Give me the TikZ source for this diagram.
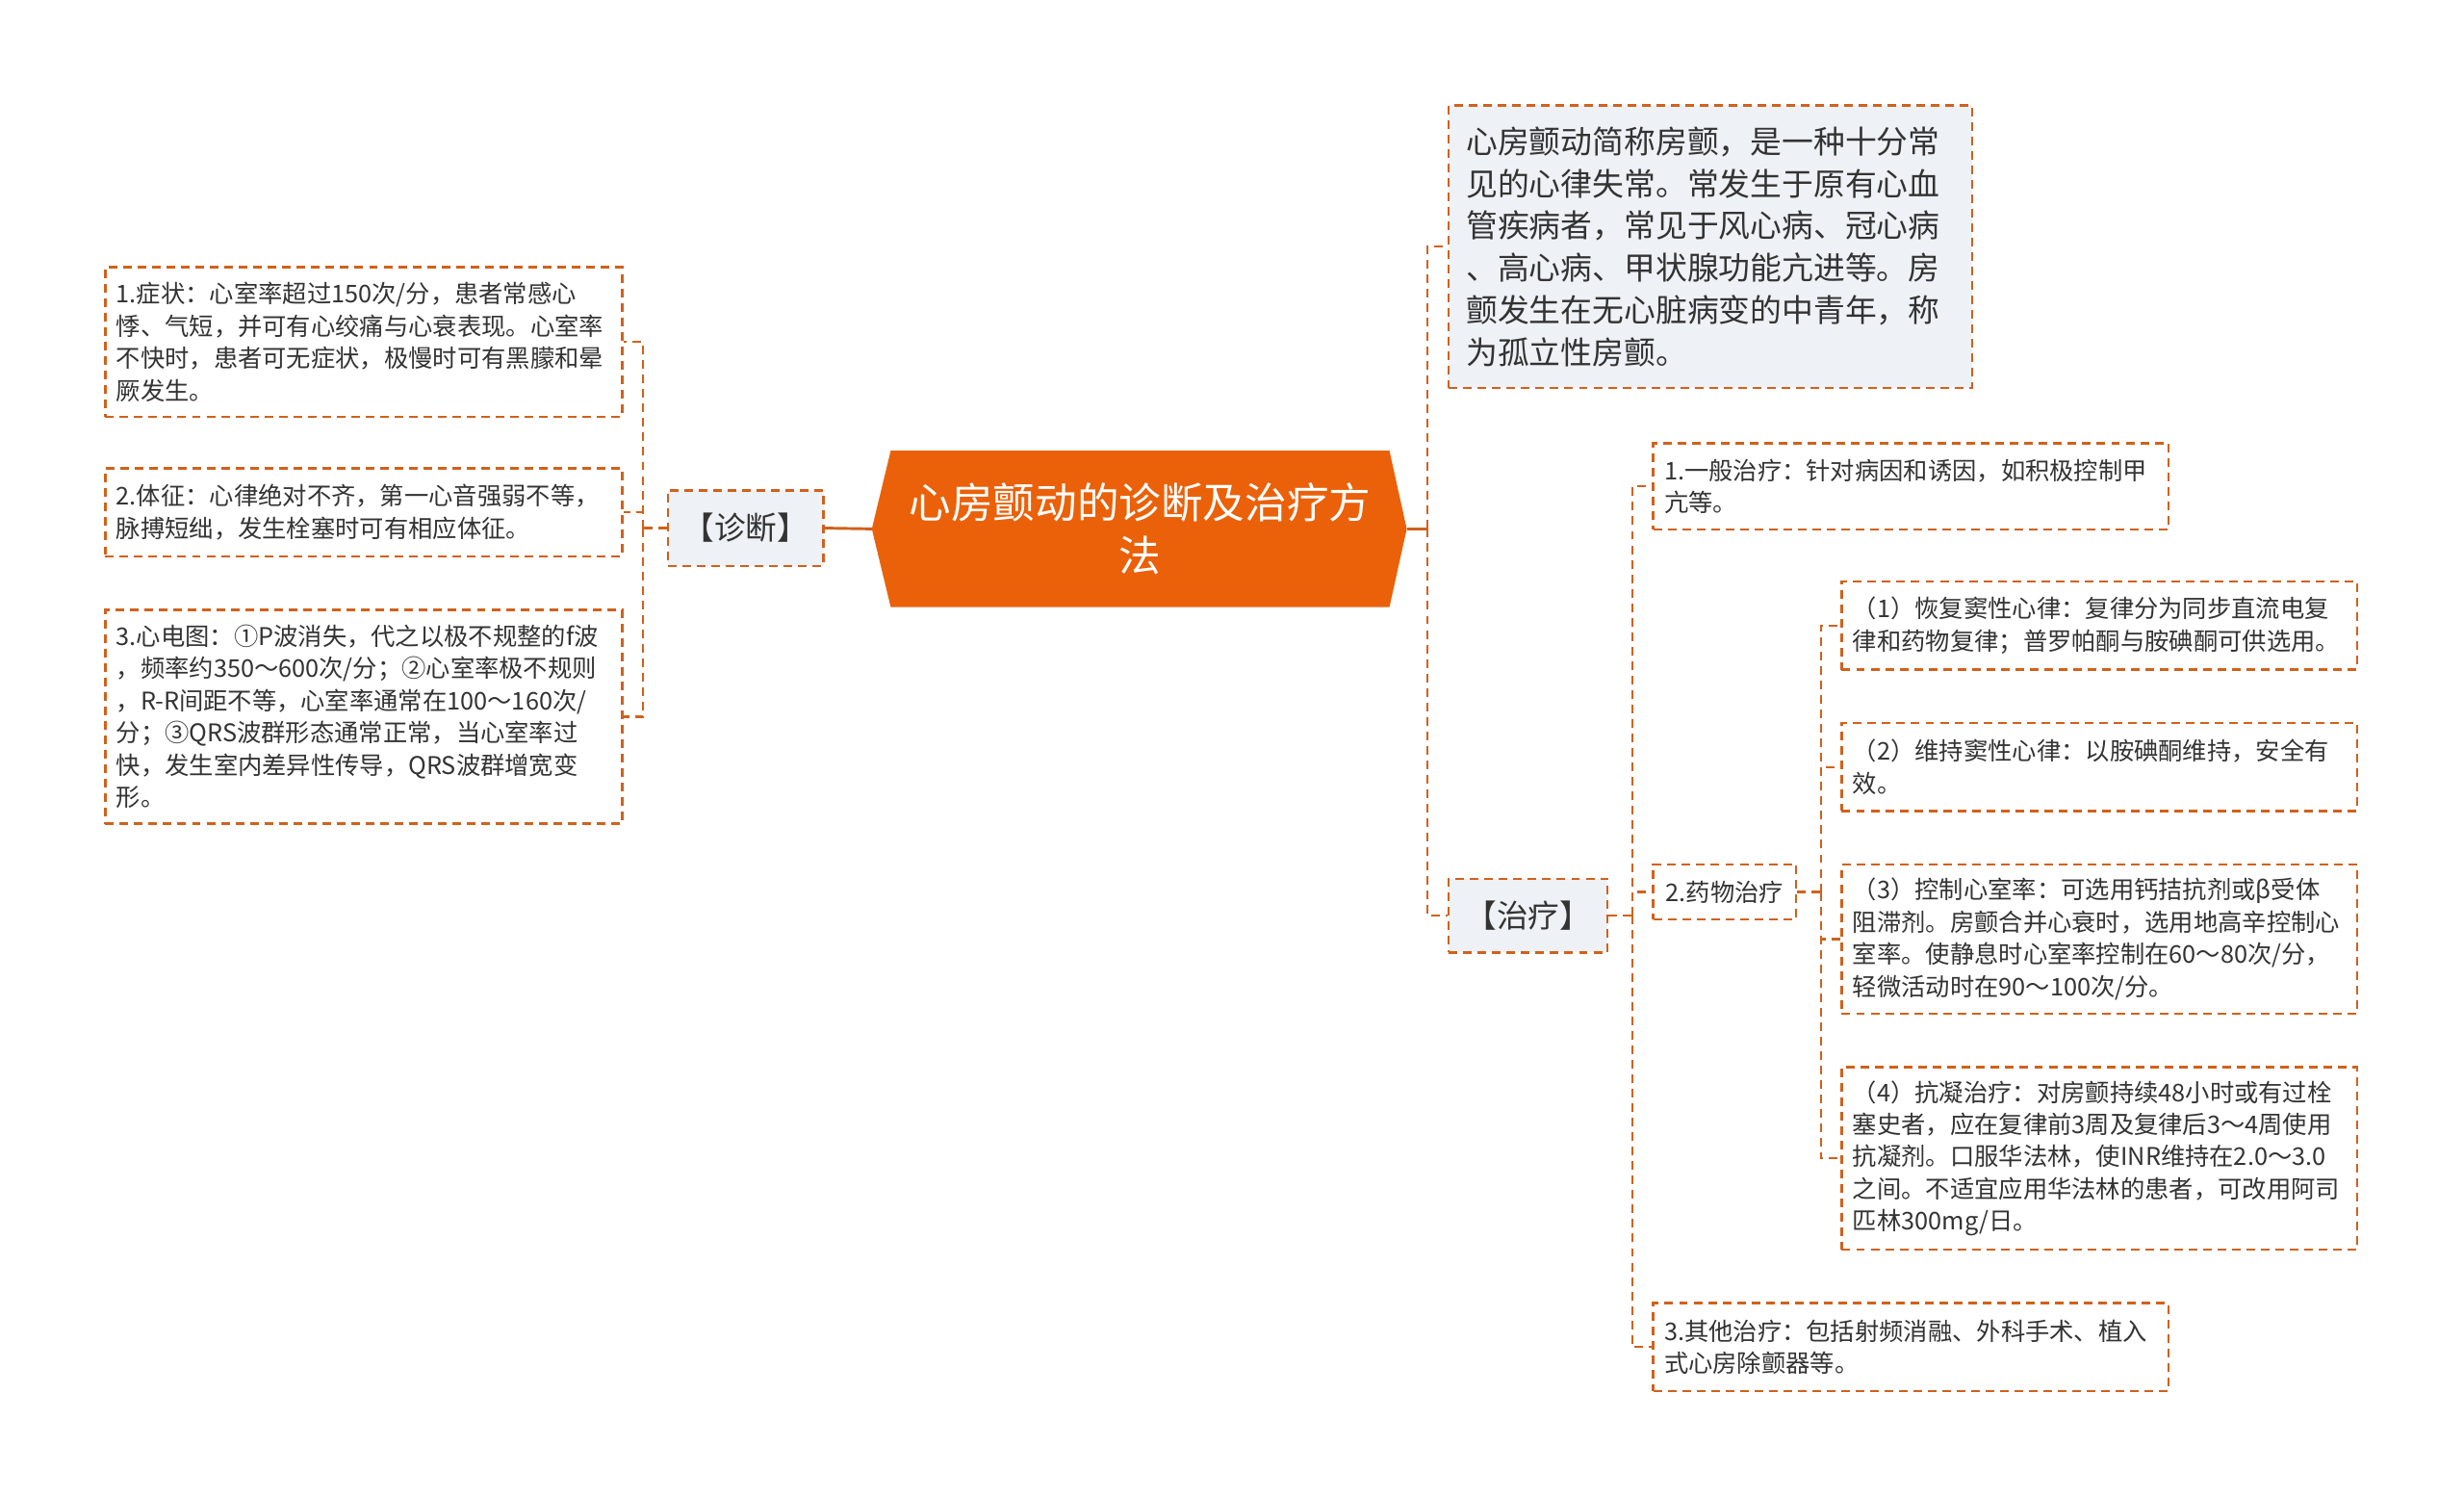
\documentclass[tikz,border=0pt]{standalone}
\usepackage{fontspec}
\newfontfamily\cjk{Noto Sans CJK SC}
\usetikzlibrary{backgrounds,calc}
\definecolor{lineor}{HTML}{D0611C}
\definecolor{mainor}{HTML}{EA6109}
\definecolor{graybg}{HTML}{EEF1F5}
\definecolor{txt}{HTML}{333333}
\tikzset{
  dashln/.style={draw=lineor, line width=1.4pt, dash pattern=on 5.5pt off 3.7pt},
  solidln/.style={draw=lineor, line width=1.8pt},
  sbox/.style={dashln, fill=white, text=txt, align=left, inner xsep=7pt, inner ysep=0pt,
    font=\cjk\fontsize{15.5}{20.5}\selectfont},
  gbox/.style={dashln, fill=graybg, text=txt, align=center, inner sep=0pt,
    font=\cjk\fontsize{20}{26}\selectfont},
  introbox/.style={dashln, fill=graybg, text=txt, align=left, inner xsep=11pt, inner ysep=0pt,
    font=\cjk\fontsize{20.1}{26.8}\selectfont},
}
\begin{document}
\begin{tikzpicture}[x=1pt,y=-1pt]
\useasboundingbox (0,0) rectangle (1568,952);

% central node
\node[font=\cjk\fontsize{26.7}{34}\selectfont, text=white, align=center,
      minimum width=317pt, minimum height=99pt, inner sep=0pt] (c) at (725.5,336.5)
  {心房颤动的诊断及治疗方\\法};
\coordinate (cL) at ($(c.west)+(-12,0)$);
\coordinate (cR) at ($(c.east)+(11,0)$);
\begin{scope}[on background layer]
  \fill[white] (0,0) rectangle (1568,952);
  \fill[mainor] (c.north west) -- (c.north east) -- (cR) -- (c.south east)
    -- (c.south west) -- (cL) -- cycle;
\end{scope}

% left branch
\node[gbox, minimum width=99pt, minimum height=48pt] (zd) at (474.5,336) {【诊断】};

\node[sbox, text width=315pt, minimum height=95pt] (b1) at (231.5,217.5)
  {1.症状：心室率超过150次/分，患者常感心\\悸、气短，并可有心绞痛与心衰表现。心室率\\不快时，患者可无症状，极慢时可有黑朦和晕\\厥发生。};
\node[sbox, text width=315pt, minimum height=56pt] (b2) at (231.5,326)
  {2.体征：心律绝对不齐，第一心音强弱不等，\\脉搏短绌，发生栓塞时可有相应体征。};
\node[sbox, text width=315pt, minimum height=136pt] (b3) at (231.5,456)
  {3.心电图：①P波消失，代之以极不规整的f波\\，频率约350～600次/分；②心室率极不规则\\，R-R间距不等，心室率通常在100～160次/\\分；③QRS波群形态通常正常，当心室率过\\快，发生室内差异性传导，QRS波群增宽变\\形。};

% right branch
\node[introbox, text width=311pt, minimum height=180pt] (intro) at (1088.5,157)
  {心房颤动简称房颤，是一种十分常\\见的心律失常。常发生于原有心血\\管疾病者，常见于风心病、冠心病\\、高心病、甲状腺功能亢进等。房\\颤发生在无心脏病变的中青年，称\\为孤立性房颤。};
\node[gbox, minimum width=101pt, minimum height=47pt] (zl) at (972.5,582.5) {【治疗】};

\node[sbox, text width=314pt, minimum height=55pt] (t1) at (1216,309.5)
  {1.一般治疗：针对病因和诱因，如积极控制甲\\亢等。};
\node[sbox, align=center, inner xsep=0pt, minimum width=91pt, minimum height=35pt] (t2) at (1097.5,567.5)
  {2.药物治疗};
\node[sbox, text width=314pt, minimum height=56pt] (t3) at (1216,857)
  {3.其他治疗：包括射频消融、外科手术、植入\\式心房除颤器等。};

\node[sbox, text width=314pt, minimum height=56pt] (m1) at (1336,398)
  {（1）恢复窦性心律：复律分为同步直流电复\\律和药物复律；普罗帕酮与胺碘酮可供选用。};
\node[sbox, text width=314pt, minimum height=56pt] (m2) at (1336,488)
  {（2）维持窦性心律：以胺碘酮维持，安全有\\效。};
\node[sbox, text width=314pt, minimum height=95pt] (m3) at (1336,597.5)
  {（3）控制心室率：可选用钙拮抗剂或β受体\\阻滞剂。房颤合并心衰时，选用地高辛控制心\\室率。使静息时心室率控制在60～80次/分，\\轻微活动时在90～100次/分。};
\node[sbox, text width=314pt, minimum height=116pt] (m4) at (1336,737)
  {（4）抗凝治疗：对房颤持续48小时或有过栓\\塞史者，应在复律前3周及复律后3～4周使用\\抗凝剂。口服华法林，使INR维持在2.0～3.0\\之间。不适宜应用华法林的患者，可改用阿司\\匹林300mg/日。};

% connectors
\draw[solidln] (cL) -- (zd.east);
\draw[dashln] (zd.west) -- ++(-15,0) coordinate (lj);
\draw[dashln] (lj) |- (b1.east);
\draw[dashln] (lj) |- (b2.east);
\draw[dashln] (lj) |- (b3.east);

\draw[solidln] (cR) -- ++(13,0) coordinate (rj);
\draw[dashln] (rj) |- (intro.west);
\draw[dashln] (rj) |- (zl.west);

\draw[dashln] (zl.east) -- ++(15,0) coordinate (tj);
\draw[dashln] (tj) |- (t1.west);
\draw[dashln] (tj) |- (t2.west);
\draw[dashln] (tj) |- (t3.west);

\draw[dashln] (t2.east) -- ++(15,0) coordinate (mj);
\draw[dashln] (mj) |- (m1.west);
\draw[dashln] (mj) |- (m2.west);
\draw[dashln] (mj) |- (m3.west);
\draw[dashln] (mj) |- (m4.west);
\end{tikzpicture}
\end{document}
